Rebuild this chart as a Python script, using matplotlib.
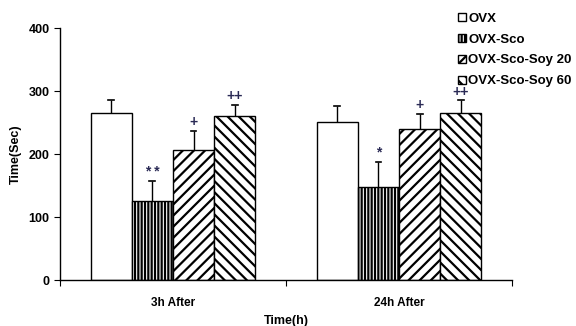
import matplotlib
matplotlib.use("Agg")
import matplotlib.pyplot as plt
import numpy as np
from matplotlib.patches import Patch

plt.rcParams['font.family'] = ['Liberation Sans', 'DejaVu Sans']
plt.rcParams['font.weight'] = 'bold'
plt.rcParams['hatch.linewidth'] = 1.6

groups = ["3h After", "24h After"]
series = ["OVX", "OVX-Sco", "OVX-Sco-Soy 20", "OVX-Sco-Soy 60"]
means = {
    "OVX": [265, 251],
    "OVX-Sco": [126, 147],
    "OVX-Sco-Soy 20": [206, 239],
    "OVX-Sco-Soy 60": [260, 265],
}
errors = {
    "OVX": [20, 26],
    "OVX-Sco": [31, 41],
    "OVX-Sco-Soy 20": [31, 25],
    "OVX-Sco-Soy 60": [18, 20],
}
marks = {
    "OVX": ["", ""],
    "OVX-Sco": ["* *", "*"],
    "OVX-Sco-Soy 20": ["+", "+"],
    "OVX-Sco-Soy 60": ["++", "++"],
}
hatches = ["", "|||||", "///", "\\\\\\"]

fig = plt.figure(figsize=(5.76, 3.26), dpi=100)
ax = fig.add_axes([0.104, 0.141, 0.785, 0.773])

x = np.arange(len(groups))
w = 0.182
offsets = (np.arange(len(series)) - 1.5) * w
handles = []
for i, s in enumerate(series):
    xs = x + offsets[i]
    ax.bar(xs, means[s], width=w, facecolor='white', edgecolor='black',
           linewidth=1.0, hatch=hatches[i], zorder=2)
    ax.errorbar(xs, np.array(means[s]) + np.array(errors[s]) / 2,
                yerr=[np.array(errors[s]) / 2, np.array(errors[s]) / 2],
                fmt='none', ecolor='black', elinewidth=1.0, capsize=0, zorder=1)
    for xi, m, e, t in zip(xs, means[s], errors[s], marks[s]):
        ax.plot([xi - 0.013, xi + 0.013], [m + e, m + e], color='black', lw=1.2, zorder=3)
        if t:
            ax.text(xi, m + e + 3, t, ha='center', va='bottom', fontsize=10,
                    color='#2a2a55', fontweight='bold')
    handles.append(Patch(facecolor='white', edgecolor='black', hatch=hatches[i], label=s))

ax.set_xlim(-0.5, 1.5)
ax.set_ylim(0, 400)
ax.set_yticks([0, 100, 200, 300, 400])
ax.set_xticks([-0.5, 0.5, 1.5])
ax.set_xticklabels([])
ax.set_xticks(x, minor=True)
ax.set_xticklabels(groups, minor=True)
ax.tick_params(axis='x', which='minor', length=0, pad=12, labelsize=8.5)
ax.tick_params(axis='x', which='major', length=4, direction='out')
ax.tick_params(axis='y', length=4, direction='out', labelsize=9)
for lab in ax.get_yticklabels() + ax.get_xticklabels(minor=True):
    lab.set_fontweight('bold')
ax.spines['top'].set_visible(False)
ax.spines['right'].set_visible(False)
ax.spines['left'].set_linewidth(1.0)
ax.spines['bottom'].set_linewidth(1.0)

ax.set_ylabel("Time(Sec)", fontsize=9, fontweight='bold', labelpad=5)
fig.text(0.497, 0.015, "Time(h)", ha='center', va='center', fontsize=9, fontweight='bold')

leg = fig.legend(handles=handles, loc='upper left', bbox_to_anchor=(0.782, 0.985),
                 frameon=False, handlelength=0.55, handleheight=0.55,
                 handletextpad=0.2, labelspacing=0.67, borderaxespad=0.2,
                 prop={'weight': 'bold', 'size': 9.5})

fig.savefig("out.png", dpi=100)
